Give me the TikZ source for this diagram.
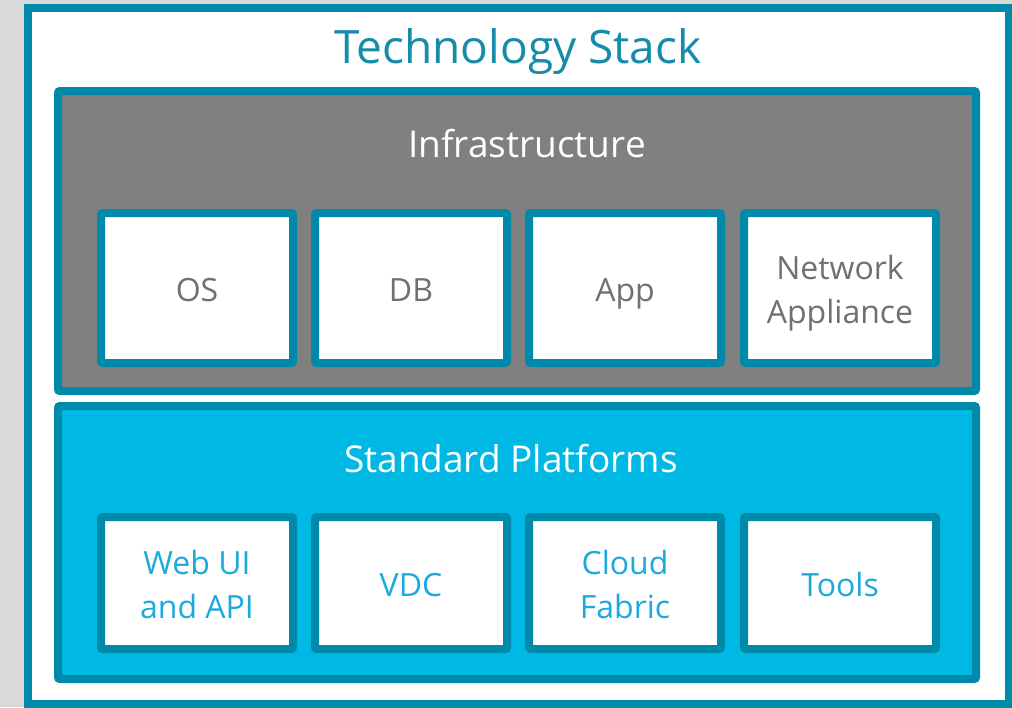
\documentclass[tikz,border=0pt]{standalone}
\usepackage{fontspec}
\setmainfont{Open Sans}
\definecolor{teal}{RGB}{0,138,170}
\definecolor{cyanfill}{RGB}{0,184,228}
\definecolor{grayfill}{RGB}{128,128,128}
\definecolor{titlecol}{RGB}{22,140,170}
\definecolor{graytext}{RGB}{112,112,112}
\definecolor{cyantext}{RGB}{28,170,220}
\definecolor{bggray}{RGB}{218,216,216}
\newcommand\lnstrut{\rule[-9pt]{0pt}{44pt}}
\tikzset{
  frame/.style={draw=teal, line width=8pt, rounded corners=2pt},
  itembox/.style={frame, fill=white, minimum width=192pt, minimum height=150pt, inner sep=0pt, align=center, font=\fontsize{32}{44}\selectfont},
  infitem/.style={itembox, text=graytext},
  stditem/.style={itembox, minimum height=132pt, text=cyantext},
}
\begin{document}
\begin{tikzpicture}[x=1pt,y=-1pt]
\useasboundingbox (0,0) rectangle (1012,707);
\fill[bggray] (0,0) rectangle (1012,707);
\draw[frame, fill=white, rounded corners=0pt] (28,8) rectangle (1008.5,703.5);
\node[anchor=base, text=titlecol, font=\fontsize{46}{52}\selectfont] (title) at (518,63) {Technology Stack};
% Infrastructure
\draw[frame, fill=grayfill] (58,91) rectangle (976,391);
\node[anchor=base, text=white, font=\fontsize{37}{44}\selectfont] (infra) at (527,157) {Infrastructure};
\node[infitem] (os) at (197,288) {\lnstrut OS};
\node[infitem] (db) at (411,288) {\lnstrut DB};
\node[infitem] (app) at (625,288) {\lnstrut App};
\node[infitem] (net) at (840,288) {\lnstrut Network\\\lnstrut Appliance};
% Standard platforms
\draw[frame, fill=cyanfill] (58,406) rectangle (976,679);
\node[anchor=base, text=white, font=\fontsize{37}{44}\selectfont] (std) at (511,472) {Standard Platforms};
\node[stditem] (web) at (197,583) {\lnstrut Web UI\\\lnstrut and API};
\node[stditem] (vdc) at (411,583) {\lnstrut VDC};
\node[stditem] (cloud) at (625,583) {\lnstrut Cloud\\\lnstrut Fabric};
\node[stditem] (tools) at (840,583) {\lnstrut Tools};
\end{tikzpicture}
\end{document}
